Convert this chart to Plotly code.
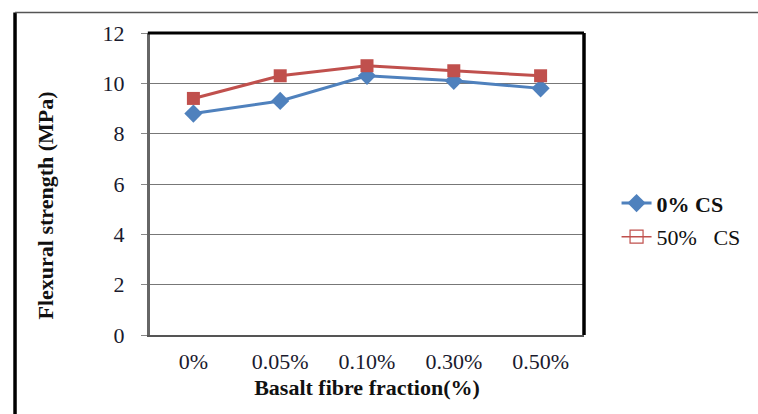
import plotly.graph_objects as go

# Basalt fibre fraction categories and flexural strength (MPa)
fractions = ["0%", "0.05%", "0.10%", "0.30%", "0.50%"]
cs0 = [8.8, 9.3, 10.3, 10.1, 9.8]
cs50 = [9.4, 10.3, 10.7, 10.5, 10.3]
y_ticks = [0, 2, 4, 6, 8, 10, 12]

BLUE = "#4F81BD"
RED = "#C0504D"
FONT = "Liberation Serif, Times New Roman, serif"

fig = go.Figure()

fig.add_trace(go.Scatter(
    x=fractions, y=cs0, mode="lines+markers", name="<b>0% CS</b>",
    line=dict(color=BLUE, width=3),
    marker=dict(symbol="diamond", size=14, color=BLUE),
    legendgroup="a",
))
fig.add_trace(go.Scatter(
    x=fractions, y=cs50, mode="lines+markers", name="50%   CS",
    line=dict(color=RED, width=3),
    marker=dict(symbol="square", size=13, color=RED),
    showlegend=False,
))
# legend entry for the 50% series drawn with an open square
fig.add_trace(go.Scatter(
    x=[None], y=[None], mode="lines+markers", name="50%&nbsp;&nbsp;&nbsp;CS",
    line=dict(color=RED, width=1.5),
    marker=dict(symbol="square-open", size=13, color=RED, line=dict(width=1.2)),
    legendgroup="b",
))

fig.update_layout(
    width=758, height=414,
    margin=dict(l=150, r=170, t=33, b=79),
    paper_bgcolor="white", plot_bgcolor="white",
    font=dict(family=FONT, size=22, color="#1a1a2e"),
    showlegend=True,
    legend=dict(
        x=1.075, y=0.38, xanchor="left", yanchor="middle",
        font=dict(family=FONT, size=22, color="#111"),
        tracegroupgap=2, traceorder="grouped",
        bgcolor="rgba(0,0,0,0)",
    ),
    annotations=[
        dict(text="<b>Flexural strength (MPa)</b>", xref="paper", yref="paper",
             x=-0.241, y=0.43, xanchor="center", yanchor="middle",
             textangle=-90, showarrow=False,
             font=dict(family=FONT, size=22, color="#111")),
    ],
    shapes=[
        # outer frame: heavy left rule and thin top rule
        dict(type="line", xref="paper", yref="paper", x0=-0.311, x1=-0.311,
             y0=-0.27, y1=1.068, line=dict(color="black", width=3.5)),
        dict(type="line", xref="paper", yref="paper", x0=-0.311, x1=1.5,
             y0=1.068, y1=1.068, line=dict(color="#555", width=1.5)),
        # heavy top and right borders of the plot area
        dict(type="line", xref="paper", yref="paper", x0=-0.005, x1=1.0,
             y0=1.0, y1=1.0, line=dict(color="black", width=3)),
        dict(type="line", xref="paper", yref="paper", x0=1.0, x1=1.0,
             y0=0.0, y1=1.0, line=dict(color="black", width=3.5)),
    ],
)

fig.update_xaxes(
    type="category", categoryorder="array", categoryarray=fractions,
    range=[-0.5, 4.5],
    showgrid=False, showline=True, linecolor="#555", linewidth=2,
    ticks="", ticklabelstandoff=6,
    title=dict(text="<b>Basalt fibre fraction(%)</b>",
               font=dict(family=FONT, size=22, color="#111"), standoff=6),
)
fig.update_yaxes(
    range=[0, 12], tickvals=y_ticks, ticktext=[str(v) for v in y_ticks],
    showgrid=True, gridcolor="#777", gridwidth=1,
    showline=True, linecolor="#666", linewidth=3,
    ticks="outside", ticklen=6, tickcolor="#888", tickwidth=1,
    ticklabelstandoff=12, zeroline=False,
)

fig.write_html("out.html")
